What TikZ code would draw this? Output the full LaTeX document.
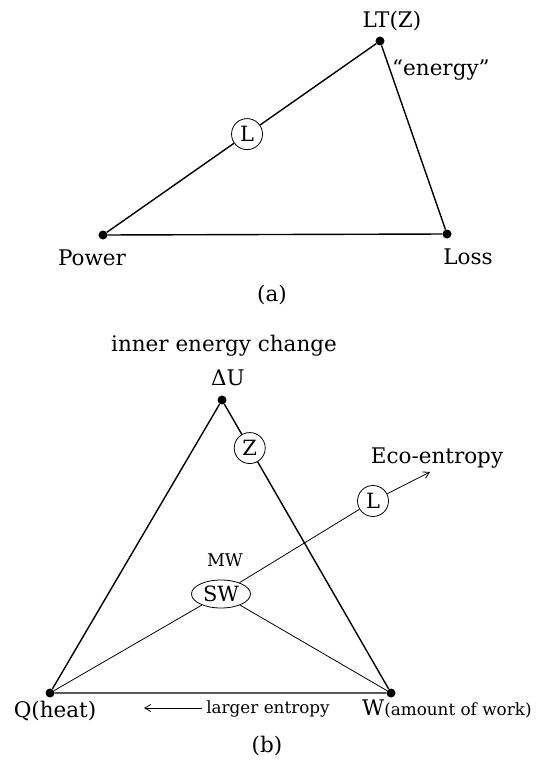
\documentclass[tikz,border=0pt]{standalone}
\usepackage{fontspec}
\setmainfont{DejaVu Serif}
\usetikzlibrary{calc, shapes.geometric, arrows.meta}
\tikzset{
  dot/.style={circle, fill=black, inner sep=0pt, minimum size=9pt},
  ring/.style={circle, draw, line width=0.8pt, inner sep=0pt, minimum size=31pt, font=\fontsize{21}{25}\selectfont},
  oval/.style={ellipse, draw, line width=0.8pt, inner sep=0pt, minimum width=59pt, minimum height=28pt, font=\fontsize{21}{25}\selectfont},
  side/.style={line width=1.4pt},
  spoke/.style={line width=0.8pt},
  tip/.style={-{Straight Barb[length=6pt, width=7pt]}},
  lbl/.style={anchor=base, inner sep=0pt, font=\fontsize{21.5}{25}\selectfont},
  small/.style={anchor=base, inner sep=0pt, font=\fontsize{16.8}{20}\selectfont},
}
\begin{document}
\begin{tikzpicture}[x=1pt, y=-1pt]
  \useasboundingbox (0,0) rectangle (537,768);

  % (a) triangle
  \node[dot] (lt)   at (380,41)  {};
  \node[dot] (pow)  at (103,235) {};
  \node[dot] (loss) at (447,234) {};
  \node[ring] (la) at ($(pow)!0.52!(lt)$) {L};
  \draw[side] (pow) -- (la) -- (lt) -- (loss) -- (pow);

  \node[lbl] (ltlbl)   at (392,28)  {LT(Z)};
  \node[lbl, anchor=base west] (enlbl) at (392,75) {“energy”};
  \node[lbl] (powlbl)  at (92,265)  {Power};
  \node[lbl] (losslbl) at (468,264) {Loss};
  \node[lbl] (capa)    at (272,301) {(a)};

  % (b) triangle
  \node[dot] (du) at (222,400) {};
  \node[dot] (q)  at (50,693)  {};
  \node[dot] (w)  at (391,693) {};
  \node[ring] (zb) at ($(du)!0.164!(w)$) {Z};
  \node[oval] (sw) at (221,594) {SW};
  \node[ring] (lb) at (373,501) {L};
  \coordinate (eco) at (430,472);
  \draw[side] (du) -- (q) -- (w) -- (zb) -- (du);
  \draw[spoke] (q) -- (sw) -- (w);
  \draw[spoke] (sw) -- (lb);
  \draw[spoke, tip] (lb) -- (eco);

  \coordinate (entA) at (202,708);
  \coordinate (entB) at (144,708);
  \draw[spoke, tip] (entA) -- (entB);

  \node[lbl] (inner) at (224,351) {inner energy change};
  \node[lbl] (dulbl) at (228,385) {ΔU};
  \node[lbl, font=\fontsize{17.5}{20}\selectfont] (mw) at (225,566) {MW};
  \node[lbl] (ecolbl) at (437,463) {Eco-entropy};
  \node[small] (entlbl) at (268,713) {larger entropy};
  \node[lbl] (qlbl) at (55,717) {Q(heat)};
  \node[lbl, anchor=base west] (wlbl) at (362,715) {W{\fontsize{16.8}{20}\selectfont(amount of work)}};
  \node[lbl] (capb) at (267,752) {(b)};
\end{tikzpicture}
\end{document}
